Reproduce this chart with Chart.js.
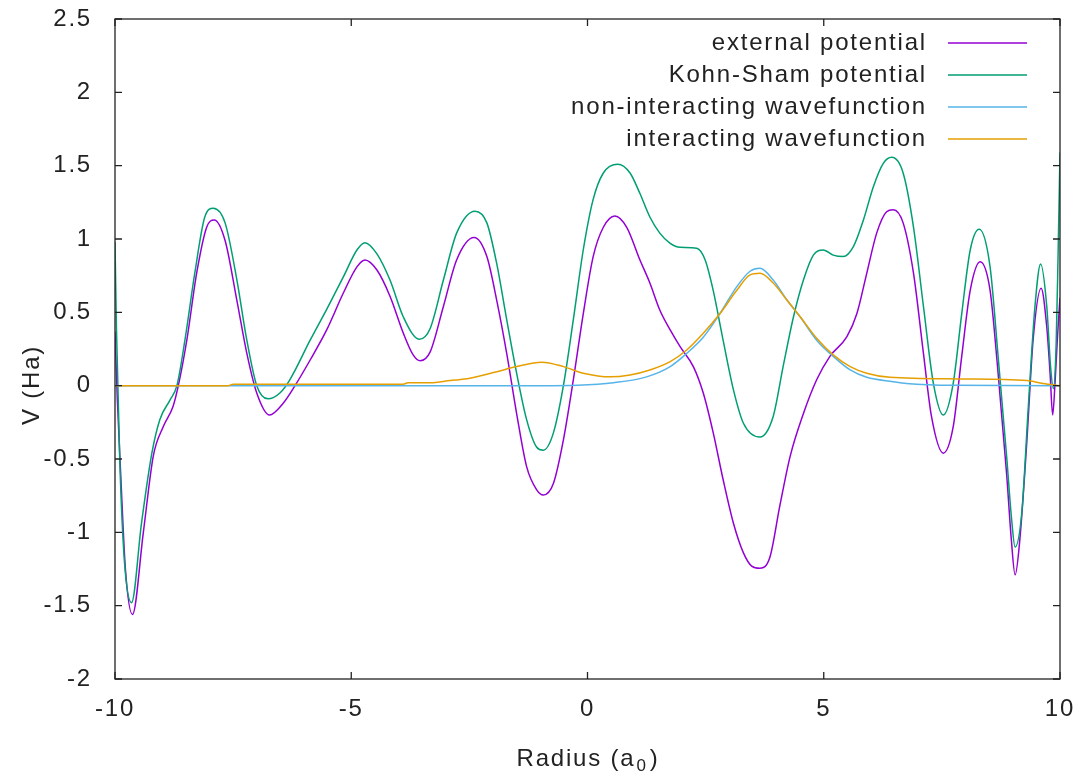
<!DOCTYPE html>
<html>
<head>
<meta charset="utf-8">
<script src="https://cdn.jsdelivr.net/npm/chart.js@4"></script>
<style>
  body { margin: 0; background: #fff; }
  canvas { display: block; }
</style>
</head>
<body>
<canvas id="chart" width="1080" height="781"></canvas>
<script>
// values
const labels = ['external potential', 'Kohn-Sham potential', 'non-interacting wavefunction', 'interacting wavefunction'];
const colors = ['#9400d3', '#009e73', '#56b4e9', '#e69f00'];

const extX = [-10, -9.95, -9.88, -9.78, -9.63, -9.40, -9.19, -8.98, -8.77, -8.66,
  -8.48, -8.27, -8.06, -7.90, -7.67, -7.42, -7.21, -7.00, -6.73, -6.44,
  -6.19, -5.87, -5.52, -5.17, -4.88, -4.71, -4.46, -4.18, -3.90, -3.69,
  -3.54, -3.33, -3.05, -2.77, -2.40, -2.13, -1.92, -1.71, -1.50, -1.29,
  -1.075, -0.935, -0.72, -0.51, -0.30, -0.09, 0.12, 0.335, 0.58, 0.83,
  1.11, 1.32, 1.53, 1.75, 1.96, 2.24, 2.45, 2.66, 2.87, 3.09,
  3.30, 3.475, 3.65, 3.86, 4.07, 4.29, 4.57, 4.85, 5.13, 5.49,
  5.70, 5.91, 6.12, 6.33, 6.47, 6.68, 6.90, 7.11, 7.28, 7.53,
  7.74, 7.92, 8.10, 8.31, 8.52, 8.69, 8.87, 8.97, 9.05, 9.15,
  9.30, 9.43, 9.60, 9.72, 9.79, 9.845, 9.90, 9.95, 10];
const extY = [0.37, -0.1, -0.6, -1.25, -1.56, -1.0, -0.48, -0.28, -0.14, 0,
  0.31, 0.77, 1.08, 1.13, 0.99, 0.58, 0.22, -0.05, -0.2, -0.12,
  0, 0.175, 0.38, 0.63, 0.81, 0.857, 0.79, 0.61, 0.36, 0.21,
  0.17, 0.23, 0.54, 0.857, 1.01, 0.88, 0.58, 0.22, -0.19, -0.55,
  -0.71, -0.745, -0.665, -0.37, 0.04, 0.49, 0.88, 1.08, 1.157, 1.08,
  0.857, 0.70, 0.516, 0.38, 0.266, 0.13, -0.05, -0.32, -0.64, -0.94,
  -1.14, -1.23, -1.245, -1.17, -0.82, -0.48, -0.19, 0.04, 0.20, 0.334,
  0.49, 0.766, 1.04, 1.186, 1.20, 1.11, 0.766, 0.22, -0.21, -0.46,
  -0.28, 0.20, 0.65, 0.845, 0.65, 0.085, -0.60, -1.05, -1.29, -1.05,
  -0.37, 0.31, 0.664, 0.40, 0.085, -0.20, 0.05, 0.35, 0.6];

const ksX = [-10, -9.97, -9.9, -9.8, -9.65, -9.44, -9.22, -9.05, -8.84, -8.69,
  -8.52, -8.31, -8.10, -7.92, -7.67, -7.42, -7.21, -7.00, -6.76, -6.51,
  -6.30, -5.87, -5.52, -5.17, -4.88, -4.71, -4.46, -4.18, -3.90, -3.56,
  -3.33, -3.05, -2.77, -2.38, -2.13, -1.92, -1.71, -1.50, -1.29, -1.075,
  -0.935, -0.72, -0.51, -0.30, -0.09, 0.12, 0.335, 0.64, 0.90, 1.11,
  1.32, 1.53, 1.75, 1.96, 2.31, 2.49, 2.66, 2.87, 3.09, 3.30,
  3.65, 3.93, 4.14, 4.36, 4.57, 4.78, 4.99, 5.20, 5.41, 5.63,
  5.84, 6.05, 6.26, 6.44, 6.68, 6.90, 7.11, 7.32, 7.53, 7.74,
  7.92, 8.10, 8.29, 8.52, 8.69, 8.87, 8.97, 9.05, 9.19, 9.33,
  9.47, 9.59, 9.72, 9.80, 9.86, 9.92, 9.96, 10];
const ksY = [0.98, 0.4, -0.5, -1.2, -1.48, -0.94, -0.46, -0.23, -0.1, 0,
  0.31, 0.77, 1.15, 1.21, 1.11, 0.72, 0.31, 0, -0.09, -0.05,
  0.04, 0.31, 0.52, 0.74, 0.925, 0.975, 0.90, 0.72, 0.47, 0.316,
  0.39, 0.72, 1.04, 1.19, 1.11, 0.83, 0.45, 0.085, -0.23, -0.42,
  -0.44, -0.32, 0, 0.45, 0.925, 1.27, 1.45, 1.51, 1.45, 1.31,
  1.15, 1.04, 0.97, 0.943, 0.937, 0.857, 0.65, 0.31, -0.03, -0.256,
  -0.35, -0.21, 0.13, 0.47, 0.72, 0.89, 0.925, 0.89, 0.88, 0.95,
  1.13, 1.357, 1.516, 1.557, 1.45, 1.08, 0.54, 0.016, -0.20, 0.016,
  0.49, 0.925, 1.066, 0.81, 0.20, -0.48, -0.89, -1.10, -0.87, -0.14,
  0.54, 0.83, 0.54, 0.13, -0.02, 0.3, 0.9, 1.59];

const nonIntX = [-10, -7.5, -4, -1, -0.2, 0.55, 1.25, 1.75, 2.10, 2.45, 2.80, 3.16, 3.44,
  3.65, 3.93, 4.22, 4.50, 4.85, 5.20, 5.56, 5.91, 6.47, 6.75, 7.74, 10];
const nonIntY = [0, 0, 0, 0, 0.003, 0.02, 0.06, 0.13, 0.22, 0.33, 0.49, 0.675, 0.78,
  0.80, 0.72, 0.584, 0.47, 0.31, 0.20, 0.107, 0.057, 0.027, 0.015, 0.002, 0];

const intX = [-10, -7.6, -7.5, -3.9, -3.8, -3.33, -2.91, -2.49, -1.92, -1.50,
  -0.97, -0.51, -0.09, 0.48, 0.90, 1.32, 1.75, 2.10, 2.45, 2.80,
  3.16, 3.44, 3.65, 3.93, 4.22, 4.50, 4.85, 5.20, 5.56, 5.91,
  6.40, 7.88, 9.30, 9.64, 10];
const intY = [0, 0, 0.01, 0.01, 0.02, 0.02, 0.035, 0.05, 0.095, 0.13,
  0.16, 0.13, 0.085, 0.06, 0.073, 0.107, 0.164, 0.243, 0.357, 0.49,
  0.65, 0.755, 0.766, 0.70, 0.584, 0.47, 0.323, 0.21, 0.13, 0.085,
  0.057, 0.046, 0.035, 0.015, 0];

const xTicks = [-10, -5, 0, 5, 10];
const yTicks = [-2, -1.5, -1, -0.5, 0, 0.5, 1, 1.5, 2, 2.5];

const FONT = "'Liberation Sans', Arial, sans-serif";
const SIZE = 24;
const SPACING = '1.8px';
const INK = '#222';

const toPoints = (xs, ys) => xs.map((x, i) => ({ x: x, y: ys[i] }));
const series = [toPoints(extX, extY), toPoints(ksX, ksY), toPoints(nonIntX, nonIntY), toPoints(intX, intY)];

const gnuFrame = {
  id: 'gnuFrame',
  beforeDraw(chart) {
    chart.ctx.letterSpacing = SPACING;
  },
  afterDatasetsDraw(chart) {
    const ctx = chart.ctx;
    const a = chart.chartArea;
    const xs = chart.scales.x, ys = chart.scales.y;
    ctx.save();
    ctx.strokeStyle = INK;
    ctx.lineWidth = 1.3;
    ctx.strokeRect(a.left, a.top, a.right - a.left, a.bottom - a.top);
    ctx.beginPath();
    xTicks.forEach(v => {
      const p = xs.getPixelForValue(v);
      ctx.moveTo(p, a.bottom); ctx.lineTo(p, a.bottom - 7);
      ctx.moveTo(p, a.top); ctx.lineTo(p, a.top + 7);
    });
    yTicks.forEach(v => {
      const p = ys.getPixelForValue(v);
      ctx.moveTo(a.left, p); ctx.lineTo(a.left + 7, p);
      ctx.moveTo(a.right, p); ctx.lineTo(a.right - 7, p);
    });
    ctx.stroke();

    // key, gnuplot style: text then sample line
    ctx.font = SIZE + 'px ' + FONT;
    ctx.letterSpacing = SPACING;
    ctx.textAlign = 'right';
    ctx.textBaseline = 'middle';
    labels.forEach((t, i) => {
      const y = 43 + 32 * i;
      ctx.fillStyle = INK;
      ctx.fillText(t, 927, y);
      ctx.strokeStyle = colors[i];
      ctx.lineWidth = 1.5;
      ctx.beginPath();
      ctx.moveTo(948, y); ctx.lineTo(1027, y);
      ctx.stroke();
    });

    // axis titles
    ctx.fillStyle = INK;
    ctx.save();
    ctx.translate(32, 385);
    ctx.rotate(-Math.PI / 2);
    ctx.textAlign = 'center';
    ctx.fillText('V (Ha)', 0, 0);
    ctx.restore();

    ctx.textAlign = 'left';
    ctx.textBaseline = 'alphabetic';
    const big = SIZE + 'px ' + FONT, small = '17px ' + FONT;
    ctx.font = big;
    const w1 = ctx.measureText('Radius (a').width;
    const w3 = ctx.measureText(')').width;
    ctx.font = small;
    const w2 = ctx.measureText('0').width + 3;
    const x0 = 588 - (w1 + w2 + w3) / 2;
    const base = 766;
    ctx.font = big;
    ctx.fillText('Radius (a', x0, base);
    ctx.font = small;
    ctx.fillText('0', x0 + w1 + 1, base + 5);
    ctx.font = big;
    ctx.fillText(')', x0 + w1 + w2, base);
    ctx.restore();
  }
};

Chart.defaults.font.family = FONT;
Chart.defaults.font.size = SIZE;

new Chart(document.getElementById('chart').getContext('2d'), {
  type: 'scatter',
  data: {
    datasets: series.map((pts, i) => ({
      label: labels[i],
      data: pts,
      showLine: true,
      borderColor: colors[i],
      borderWidth: 1.5,
      pointRadius: 0,
      fill: false,
      cubicInterpolationMode: 'monotone',
      order: 3 - i
    }))
  },
  options: {
    responsive: false,
    animation: false,
    layout: { padding: { top: 19, right: 20, left: 0, bottom: 0 } },
    plugins: { legend: { display: false }, tooltip: { enabled: false } },
    scales: {
      x: {
        type: 'linear', min: -10, max: 10,
        ticks: { stepSize: 5, padding: 16, color: INK, maxRotation: 0, autoSkip: false, callback: v => String(v) },
        grid: { display: false, drawTicks: false },
        border: { display: false },
        afterFit: s => { s.height = 102; s.paddingLeft = 0; s.paddingRight = 0; }
      },
      y: {
        min: -2, max: 2.5,
        ticks: { stepSize: 0.5, padding: 23, color: INK, callback: v => String(v) },
        grid: { display: false, drawTicks: false },
        border: { display: false },
        afterFit: s => { s.width = 115; s.paddingTop = 0; s.paddingBottom = 0; }
      }
    }
  },
  plugins: [gnuFrame]
});
</script>
</body>
</html>
